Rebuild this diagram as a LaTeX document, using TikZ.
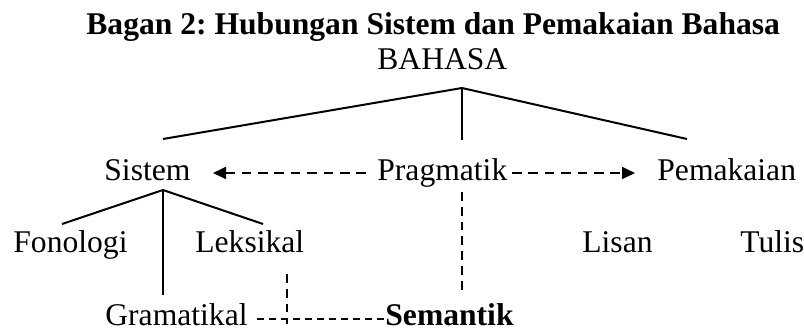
\documentclass[tikz,border=0pt]{standalone}
\usepackage{fontspec}
\setmainfont{Liberation Serif}
\usetikzlibrary{arrows.meta}
\frenchspacing
\begin{document}
\begin{tikzpicture}[x=0.5pt,y=-0.5pt,
  lbl/.style={anchor=base west,inner sep=0pt,font=\fontsize{15.8pt}{18pt}\selectfont},
  tree/.style={line width=1pt},
  dsh/.style={line width=0.85pt,dash pattern=on 4.8pt off 3.4pt},
  dshv/.style={line width=0.8pt,dash pattern=on 4.4pt off 3pt},
  dshh/.style={line width=0.8pt,dash pattern=on 3.6pt off 2.4pt},
  tip/.style={-{Triangle[length=6.5pt,width=6pt]}}]
\useasboundingbox (0,0) rectangle (804,332);
% texts
\node[lbl,font=\fontsize{15.8pt}{18pt}\selectfont\bfseries] (title) at (86,34) {Bagan 2: Hubungan Sistem dan Pemakaian Bahasa};
\node[lbl] (bahasa) at (377,69) {BAHASA};
\node[lbl] (sistem) at (104,180) {Sistem};
\node[lbl] (prag) at (377,180) {Pragmatik};
\node[lbl] (pemak) at (657,180) {Pemakaian};
\node[lbl] (fono) at (13,252) {Fonologi};
\node[lbl] (leks) at (195,252) {Leksikal};
\node[lbl] (lisan) at (582,252) {Lisan};
\node[lbl] (tulis) at (740,252) {Tulis};
\node[lbl] (gram) at (105,325) {Gramatikal};
\node[lbl,font=\fontsize{15.8pt}{18pt}\selectfont\bfseries] (sem) at (385,325) {Semantik};
% tree under BAHASA
\coordinate (apexB) at (462,88);
\coordinate (bL) at (163,139);
\coordinate (bM) at (462,140);
\coordinate (bR) at (687,139);
\draw[tree] (bL) -- (apexB) -- (bR);
\draw[tree] (apexB) -- (bM);
% tree under Sistem
\coordinate (apexS) at (163,190);
\coordinate (sL) at (62,224);
\coordinate (sR) at (263,224);
\coordinate (sM) at (163,295);
\draw[tree] (sL) -- (apexS) -- (sR);
\draw[tree] (apexS) -- (sM);
% dashed arrows from Pragmatik
\coordinate (pl) at (366,173);
\coordinate (al) at (213,173);
\coordinate (pr) at (512,173);
\coordinate (ar) at (635,173);
\draw[dsh,tip] (pl) -- (al);
\draw[dsh,tip] (pr) -- (ar);
% Pragmatik down to Semantik
\coordinate (pd1) at (462,192);
\coordinate (pd2) at (462,295);
\draw[dshv] (pd1) -- (pd2);
% Leksikal down
\coordinate (ld1) at (287,274);
\coordinate (ld2) at (287,324);
\draw[dshv] (ld1) -- (ld2);
% Gramatikal -- Semantik
\coordinate (g1) at (257,319);
\coordinate (g2) at (384,319);
\draw[dshh] (g1) -- (g2);
\end{tikzpicture}
\end{document}
